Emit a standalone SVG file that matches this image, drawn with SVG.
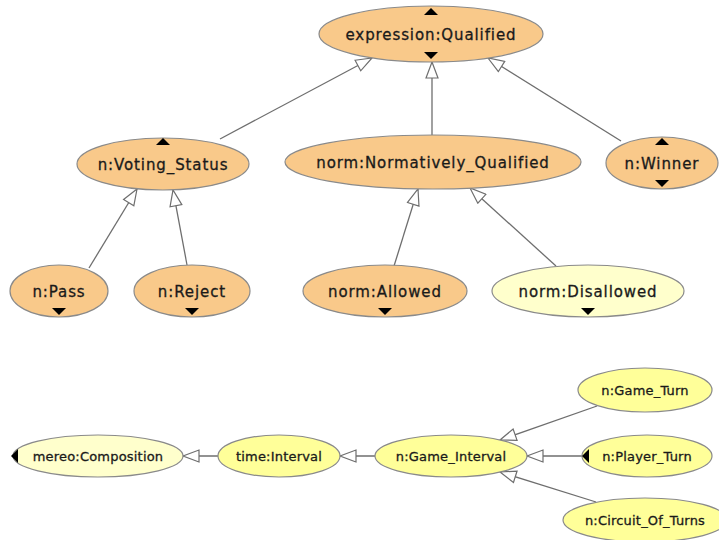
<svg xmlns="http://www.w3.org/2000/svg" width="719" height="540" viewBox="0 0 719 540">
<style>
.n ellipse{stroke:#8a8a8a;stroke-width:1.2}
.o ellipse{fill:#f9c98a}
.ly ellipse{fill:#ffffcc}
.y ellipse{fill:#ffff99}
text{font-family:"DejaVu Sans","Liberation Sans",sans-serif;fill:#1a1a1a;stroke:#1a1a1a;stroke-width:0.3;text-anchor:middle}
.big text{font-size:15px;letter-spacing:0.9px}
.small text{font-size:13px;letter-spacing:0.2px}
.tri{fill:#000}
#edges line{stroke:#6e6e6e;stroke-width:1.3;fill:none;marker-end:url(#hollow)}
</style>
<defs>
<marker id="hollow" viewBox="0 0 18 14" refX="17" refY="7" markerWidth="18" markerHeight="14" markerUnits="userSpaceOnUse" orient="auto">
<path d="M1,1 L17,7 L1,13 z" fill="#fff" stroke="#6e6e6e" stroke-width="1.2"/>
</marker>
</defs>
<rect width="719" height="540" fill="#fff"/>
<g id="edges">
<line x1="220" y1="139" x2="372" y2="58"/>
<line x1="432" y1="135" x2="432" y2="62"/>
<line x1="621" y1="141" x2="488" y2="58"/>
<line x1="89" y1="268" x2="137" y2="189"/>
<line x1="187" y1="265" x2="173" y2="190"/>
<line x1="394" y1="266" x2="418" y2="189"/>
<line x1="556" y1="266" x2="470" y2="188"/>
<line x1="218" y1="456" x2="183" y2="456"/>
<line x1="375" y1="456" x2="340" y2="456"/>
<line x1="597" y1="406" x2="500" y2="440"/>
<line x1="582" y1="456" x2="527" y2="456"/>
<line x1="596" y1="502" x2="500" y2="472"/>
</g>
<g id="expression_Qualified" class="n o big">
<ellipse cx="431" cy="34" rx="112" ry="28"/>
<text x="431" y="40">expression:Qualified</text>
<path class="tri" d="M424,15 L438,15 L431,8 z"/>
<path class="tri" d="M424,52 L438,52 L431,59 z"/>
</g>
<g id="n_Voting_Status" class="n o big">
<ellipse cx="163" cy="164" rx="86" ry="26"/>
<text x="163" y="170">n:Voting_Status</text>
<path class="tri" d="M156,145 L170,145 L163,138 z"/>
</g>
<g id="norm_Normatively_Qualified" class="n o big">
<ellipse cx="433" cy="162" rx="148" ry="27"/>
<text x="433" y="168">norm:Normatively_Qualified</text>
</g>
<g id="n_Winner" class="n o big">
<ellipse cx="662" cy="163" rx="56" ry="26"/>
<text x="662" y="169">n:Winner</text>
<path class="tri" d="M655,145 L669,145 L662,138 z"/>
<path class="tri" d="M655,180 L669,180 L662,187 z"/>
</g>
<g id="n_Pass" class="n o big">
<ellipse cx="59" cy="291" rx="49" ry="26"/>
<text x="59" y="297">n:Pass</text>
<path class="tri" d="M52,308 L66,308 L59,315 z"/>
</g>
<g id="n_Reject" class="n o big">
<ellipse cx="192" cy="291" rx="58" ry="26"/>
<text x="192" y="297">n:Reject</text>
<path class="tri" d="M185,308 L199,308 L192,315 z"/>
</g>
<g id="norm_Allowed" class="n o big">
<ellipse cx="385" cy="291" rx="82" ry="26"/>
<text x="385" y="297">norm:Allowed</text>
<path class="tri" d="M378,308 L392,308 L385,315 z"/>
</g>
<g id="norm_Disallowed" class="n ly big">
<ellipse cx="588" cy="291" rx="96" ry="26"/>
<text x="588" y="297">norm:Disallowed</text>
<path class="tri" d="M581,308 L595,308 L588,315 z"/>
</g>
<g id="mereo_Composition" class="n ly small">
<ellipse cx="98" cy="456" rx="85" ry="21"/>
<text x="98" y="461">mereo:Composition</text>
<path class="tri" d="M18,449 L18,463 L11,456 z"/>
</g>
<g id="time_Interval" class="n y small">
<ellipse cx="279" cy="456" rx="61" ry="21"/>
<text x="279" y="461">time:Interval</text>
</g>
<g id="n_Game_Interval" class="n y small">
<ellipse cx="451" cy="456" rx="76" ry="21"/>
<text x="451" y="461">n:Game_Interval</text>
</g>
<g id="n_Game_Turn" class="n y small">
<ellipse cx="645" cy="390" rx="67" ry="22"/>
<text x="645" y="395">n:Game_Turn</text>
</g>
<g id="n_Player_Turn" class="n y small">
<ellipse cx="647" cy="456" rx="65" ry="21"/>
<text x="647" y="461">n:Player_Turn</text>
<path class="tri" d="M589,449 L589,463 L582,456 z"/>
</g>
<g id="n_Circuit_Of_Turns" class="n y small">
<ellipse cx="645" cy="520" rx="82" ry="22"/>
<text x="645" y="525">n:Circuit_Of_Turns</text>
</g>
</svg>
